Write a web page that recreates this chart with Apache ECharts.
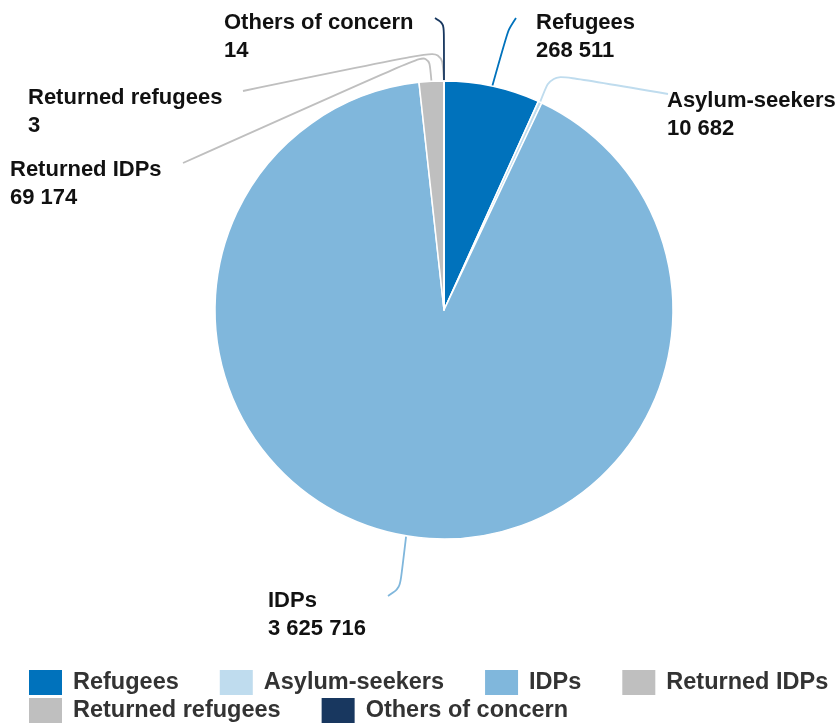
<!DOCTYPE html>
<html>
<head>
<meta charset="utf-8">
<script src="https://cdn.jsdelivr.net/npm/echarts@6/dist/echarts.min.js"></script>
<style>html,body{margin:0;padding:0;background:#fff}#c{width:839px;height:725px}</style>
</head>
<body>
<div id="c"></div>
<script>
const categories = ['Refugees', 'Asylum-seekers', 'IDPs', 'Returned IDPs', 'Returned refugees', 'Others of concern'];
const values = [268511, 10682, 3625716, 69174, 3, 14];
const colors = ['#0072BC', '#BFDCEE', '#80B7DC', '#BFBFBF', '#BFBFBF', '#18375F'];

// label placement (layout only)
const labelLayoutCfg = [
  { x: 536, y: 9,   pts: [[508, 30], [516, 18]] },
  { x: 667, y: 87,  pts: [[551, 74], [668, 94]] },
  { x: 268, y: 587, pts: [[400, 588], [388, 596]] },
  { x: 10,  y: 156, pts: [[429, 53], [183, 163]] },
  { x: 28,  y: 84,  pts: [[442, 50], [243, 91]] },
  { x: 224, y: 9,   pts: [[444, 24], [435, 18]] }
];

function fmt(v) { return String(v).replace(/\B(?=(\d{3})+(?!\d))/g, ' '); }

const chart = echarts.init(document.getElementById('c'), null, { renderer: 'canvas' });
const legendText = { fontFamily: 'Liberation Sans, Arial, sans-serif', fontWeight: 'bold', fontSize: 23.5, color: '#333', padding: [0, 0, 0, 6] };
const legendBase = { orient: 'horizontal', padding: 0, itemWidth: 33, itemHeight: 25, itemGap: 41, icon: 'rect', itemStyle: { borderWidth: 0 }, textStyle: legendText, selectedMode: false };
chart.setOption({
  animation: false,
  color: colors,
  legend: [
    Object.assign({ data: categories.slice(0, 4), left: 29, top: 670 }, legendBase),
    Object.assign({ data: categories.slice(4), left: 29, top: 698 }, legendBase)
  ],
  series: [{
    type: 'pie',
    center: [444, 310],
    radius: 229,
    startAngle: 90,
    clockwise: true,
    avoidLabelOverlap: false,
    minShowLabelAngle: 0,
    itemStyle: { borderColor: '#fff', borderWidth: 1.5 },
    label: {
      show: true,
      position: 'outside',
      formatter: p => '{n|' + p.name + '}\n{n|' + fmt(p.value) + '}',
      rich: { n: { fontFamily: 'Liberation Sans, Arial, sans-serif', fontWeight: 'bold', fontSize: 22, lineHeight: 28, color: '#111' } }
    },
    labelLine: { show: true, smooth: 0.3, length: 20, length2: 20, lineStyle: { width: 1.8 } },
    labelLayout: function (params) {
      const c = labelLayoutCfg[params.dataIndex];
      const start = params.labelLinePoints ? params.labelLinePoints[0] : null;
      const pts = start ? [start].concat(c.pts) : undefined;
      return { x: c.x, y: c.y, align: 'left', verticalAlign: 'top', labelLinePoints: pts };
    },
    data: categories.map((n, i) => ({ name: n, value: values[i], itemStyle: { color: colors[i] }, labelLine: { lineStyle: { color: colors[i] } } }))
  }]
});
</script>
</body>
</html>
